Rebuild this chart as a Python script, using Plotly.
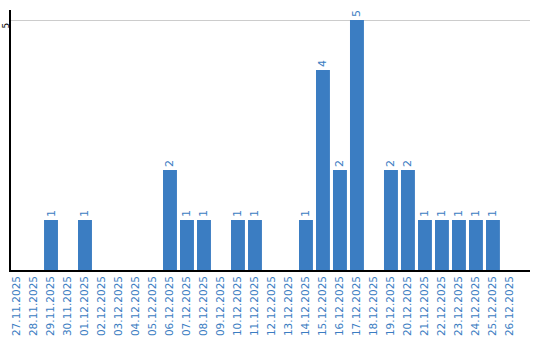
import plotly.graph_objects as go

dates = ["27.11.2025","28.11.2025","29.11.2025","30.11.2025","01.12.2025","02.12.2025",
         "03.12.2025","04.12.2025","05.12.2025","06.12.2025","07.12.2025","08.12.2025",
         "09.12.2025","10.12.2025","11.12.2025","12.12.2025","13.12.2025","14.12.2025",
         "15.12.2025","16.12.2025","17.12.2025","18.12.2025","19.12.2025","20.12.2025",
         "21.12.2025","22.12.2025","23.12.2025","24.12.2025","25.12.2025","26.12.2025"]
counts = [0,0,1,0,1,0,0,0,0,2,1,1,0,1,1,0,0,1,4,2,5,0,2,2,1,1,1,1,1,0]

blue = "#3b7dc2"
labels = [str(v) if v > 0 else "" for v in counts]

fig = go.Figure(go.Bar(
    x=dates, y=counts, marker_color=blue, marker_line_width=0,
    text=labels, textposition="outside", textangle=-90,
    textfont=dict(color=blue, size=11, family="DejaVu Sans"),
    cliponaxis=False,
))
fig.update_layout(
    width=540, height=340, margin=dict(l=11, r=10, t=10, b=70),
    plot_bgcolor="white", paper_bgcolor="white", bargap=0.18, showlegend=False,
    font=dict(family="DejaVu Sans"),
)
fig.update_xaxes(type="category", range=[-0.353, 30.18], tickangle=-90,
                 tickfont=dict(color=blue, size=10.5),
                 showline=True, linecolor="black", linewidth=1.5, ticks="", showgrid=False,
                 automargin=False)
fig.update_yaxes(range=[0, 5.2], tickvals=[5], tickangle=-90, tickfont=dict(color="black", size=9),
                 ticklabelstandoff=-3, ticklabelshift=7,
                 showline=True, linecolor="black", linewidth=1.5, gridcolor="#cccccc",
                 zeroline=False, ticks="", automargin=False)
fig.write_html("out.html")
